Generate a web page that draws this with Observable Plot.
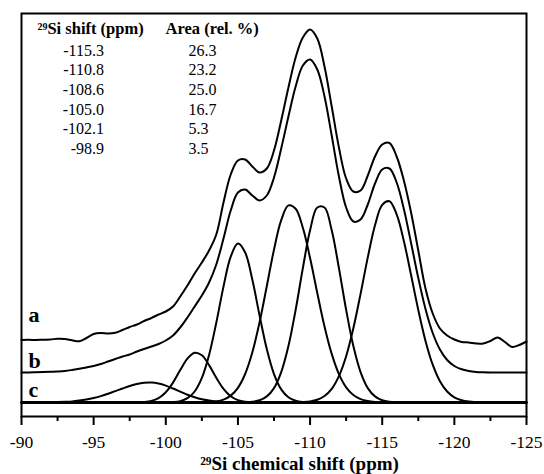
<!DOCTYPE html>
<html>
<head>
<meta charset="utf-8">
<script src="https://cdn.jsdelivr.net/npm/d3@7"></script>
<script src="https://cdn.jsdelivr.net/npm/@observablehq/plot@0.6"></script>
<style>
  html, body { margin: 0; padding: 0; background: #fff; }
</style>
</head>
<body>
<div id="chart"></div>
<script>
// 29Si chemical shift grid (ppm)
const shift = [-90,-90.5,-91,-91.5,-92,-92.5,-93,-93.5,-94,-94.5,
  -95,-95.5,-96,-96.5,-97,-97.5,-98,-98.5,-99,-99.5,
  -100,-100.5,-101,-101.5,-102,-102.5,-103,-103.5,-104,-104.5,
  -105,-105.5,-106,-106.5,-107,-107.5,-108,-108.5,-109,-109.5,
  -110,-110.5,-111,-111.5,-112,-112.5,-113,-113.5,-114,-114.5,
  -115,-115.5,-116,-116.5,-117,-117.5,-118,-118.5,-119,-119.5,
  -120,-120.5,-121,-121.5,-122,-122.5,-123,-123.5,-124,-124.5,
  -125];

// trace a: experimental spectrum (intensity, arbitrary units)
const traceA = [0.5,0.7,0.5,0.8,1.0,1.8,1.5,0.2,-0.8,2.5,
  6.5,7.5,7.0,7.8,10.5,13.5,16,19.5,22.5,26,
  29,34,44,55,67,78,90,106,138,166,
  180,181,174,168,172,190,220,253,283,303,
  311,302,274,234,193,162,149,150,165,184,
  196,197.5,184,160,128,90,52,27,12,5,
  1,-1.5,-2,-3,-3,-0.5,3,-1.5,-6.5,-4.5,
  -1];

// trace b: simulated (sum of components)
const traceB = [0,0,0.2,0.4,0.7,1.0,1.5,2.5,3.7,5,
  6.5,8.5,11,13.5,16,18,21,23.5,26,28.5,
  32,37,45,55,66,77,90,108,134,162,
  180,183,177,172,177,195,224,256,286,307,
  313,303,276,237,196,165,151,153,168,189,
  203,204,190,163.5,129.5,94.5,63.5,39.5,23,12.5,
  6.5,3.2,1.5,0.6,0.2,0,0,0,0,0,
  0];

// trace c: deconvoluted components
const comp1 = [0,0,0,0,0,0,0,0,0,0,
  0,0,0,0,0,0,0,0,0,0,
  0,0,0,0,0,0,0,0,0,0,
  0,0,0,0,0,0,0,0,0.1,0.4,
  1.1,2.8,6.5,13.7,26.4,46.3,74.2,108.6,145.1,177.2,
  197.6,201.2,188.1,161.5,127.5,92.5,61.6,37.8,21.3,11.0,
  5.2,2.3,0.9,0.3,0.1,0,0,0,0,0,
  0];
const comp2 = [0,0,0,0,0,0,0,0,0,0,
  0,0,0,0,0,0,0,0,0,0,
  0,0,0,0,0,0,0,0,0,0,
  0,0.2,0.7,2.2,6.1,14.4,30.4,56.4,92.6,134.4,
  172.2,195.0,195.0,172.2,134.4,92.6,56.4,30.4,14.4,6.1,
  2.2,0.7,0.2,0,0,0,0,0,0,0,
  0,0,0,0,0,0,0,0,0,0,
  0];
const comp3 = [0,0,0,0,0,0,0,0,0,0,
  0,0,0,0,0,0,0,0,0,0,
  0,0,0,0,0,0.1,0.4,1.1,2.9,6.9,
  14.7,28.5,50.2,80.3,116.3,152.9,182.3,197.1,193.8,174.7,
  144.5,109.5,76.1,48.6,28.4,15.2,7.5,3.4,1.4,0.5,
  0.2,0,0,0,0,0,0,0,0,0,
  0,0,0,0,0,0,0,0,0,0,
  0];
const comp4 = [0,0,0,0,0,0,0,0,0,0,
  0,0,0,0,0,0,0,0,0,0,
  0.1,0.4,1.4,4.3,11.0,24.6,47.6,79.8,115.9,145.8,
  158.9,150.0,122.7,87.0,53.4,28.4,13.1,5.2,1.8,0.5,
  0.1,0,0,0,0,0,0,0,0,0,
  0,0,0,0,0,0,0,0,0,0,
  0,0,0,0,0,0,0,0,0,0,
  0];
const comp5 = [0,0,0,0,0,0,0,0,0,0,
  0,0,0,0,0,0,0.1,0.5,1.6,4.4,
  10.3,19.9,32.4,43.9,49.8,47.2,37.4,24.7,13.7,6.3,
  2.4,0.8,0.2,0,0,0,0,0,0,0,
  0,0,0,0,0,0,0,0,0,0,
  0,0,0,0,0,0,0,0,0,0,
  0,0,0,0,0,0,0,0,0,0,
  0];
const comp6 = [0,0,0,0.1,0.2,0.4,0.7,1.1,1.9,3.0,
  4.5,6.4,8.8,11.4,14.0,16.5,18.5,19.7,20.0,19.0,
  16.9,14.0,10.9,7.8,5.3,3.3,2.0,1.1,0.5,0.3,
  0.1,0,0,0,0,0,0,0,0,0,
  0,0,0,0,0,0,0,0,0,0,
  0,0,0,0,0,0,0,0,0,0,
  0,0,0,0,0,0,0,0,0,0,
  0];

// fit table
const peakShift = ["-115.3","-110.8","-108.6","-105.0","-102.1","-98.9"];
const peakArea  = ["26.3","23.2","25.0","16.7","5.3","3.5"];

// axis ticks
const majorTicks = [-90,-95,-100,-105,-110,-115,-120,-125];
const minorTicks = [-92.5,-97.5,-102.5,-107.5,-112.5,-117.5,-122.5];

// vertical stacking of the traces (layout)
const series = [
  {name: "a", values: traceA, offset: 62},
  {name: "b", values: traceB, offset: 30},
  {name: "c1", values: comp1, offset: 0},
  {name: "c2", values: comp2, offset: 0},
  {name: "c3", values: comp3, offset: 0},
  {name: "c4", values: comp4, offset: 0},
  {name: "c5", values: comp5, offset: 0},
  {name: "c6", values: comp6, offset: 0}
];
const rows = series.flatMap(s => shift.map((x, i) => ({x, y: s.values[i] + s.offset, z: s.name})));

const serif = "Liberation Serif, Times New Roman, DejaVu Serif, serif";

const chart = Plot.plot({
  width: 544,
  height: 474,
  marginLeft: 21,
  marginRight: 18,
  marginTop: 13,
  marginBottom: 58,
  x: {domain: [-90, -125], label: null},
  y: {domain: [-14, 389], axis: null},
  style: {fontFamily: serif, background: "#fff", color: "#000", overflow: "visible"},
  marks: [
    Plot.ruleY([0], {stroke: "#000", strokeWidth: 3}),
    Plot.line(rows, {x: "x", y: "y", z: "z", stroke: "#000", strokeWidth: 2, curve: "catmull-rom"}),
    Plot.frame({stroke: "#000", strokeWidth: 2}),
    Plot.axisX(majorTicks, {label: null, tickSize: 9, tickPadding: 10, strokeWidth: 2, tickFormat: d => String(d), fontSize: 17.5, fontFamily: serif, fill: "#000"}),
    Plot.axisX(minorTicks, {label: null, tickSize: 5, strokeWidth: 2, tickFormat: () => ""}),
    // table
    Plot.text(["²⁹Si shift (ppm)"], {frameAnchor: "top-left", dx: 16, dy: 15, lineAnchor: "middle", textAnchor: "start", fontWeight: "bold", fontSize: 16.5, fontFamily: serif, fill: "#000"}),
    Plot.text(["Area (rel. %)"], {frameAnchor: "top-left", dx: 144, dy: 15, lineAnchor: "middle", textAnchor: "start", fontWeight: "bold", fontSize: 16.5, fontFamily: serif, fill: "#000"}),
    Plot.text([peakShift.join("\n")], {frameAnchor: "top-left", dx: 82.5, dy: 28.6, lineAnchor: "top", lineHeight: 1.22, textAnchor: "end", fontSize: 16, fontFamily: serif, fill: "#000"}),
    Plot.text([peakArea.join("\n")], {frameAnchor: "top-left", dx: 167, dy: 28.6, lineAnchor: "top", lineHeight: 1.22, textAnchor: "start", fontSize: 16, fontFamily: serif, fill: "#000"}),
    // trace labels
    Plot.text(["a"], {frameAnchor: "top-left", dx: 7, dy: 301.5, lineAnchor: "middle", textAnchor: "start", fontWeight: "bold", fontSize: 22, fontFamily: serif, fill: "#000"}),
    Plot.text(["b"], {frameAnchor: "top-left", dx: 7, dy: 347, lineAnchor: "middle", textAnchor: "start", fontWeight: "bold", fontSize: 22, fontFamily: serif, fill: "#000"}),
    Plot.text(["c"], {frameAnchor: "top-left", dx: 7, dy: 376.5, lineAnchor: "middle", textAnchor: "start", fontWeight: "bold", fontSize: 22, fontFamily: serif, fill: "#000"}),
    // x-axis title
    Plot.text(["²⁹Si chemical shift (ppm)"], {frameAnchor: "bottom", dx: 25.5, dy: 47, lineAnchor: "middle", textAnchor: "middle", fontWeight: "bold", fontSize: 19, fontFamily: serif, fill: "#000"})
  ]
});
document.getElementById("chart").appendChild(chart);
</script>
</body>
</html>
